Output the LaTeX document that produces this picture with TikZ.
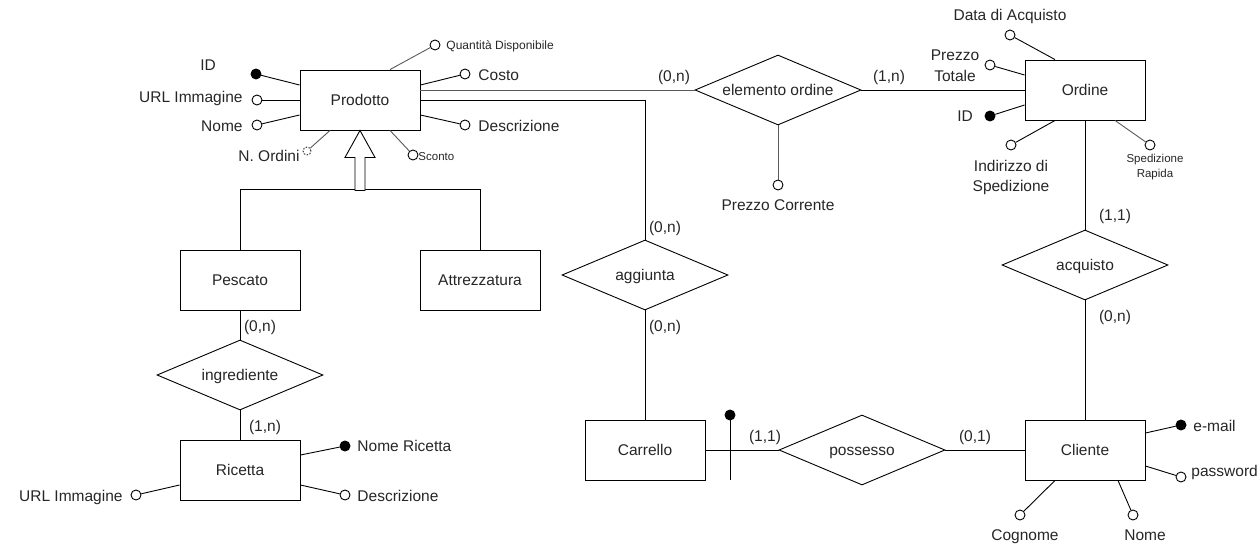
\documentclass[tikz,border=0pt]{standalone}
\usepackage{fontspec}
\setmainfont{Liberation Sans}
\usetikzlibrary{shapes.geometric}
\newcommand\fmain{\fontsize{15.5}{20}\selectfont}
\newcommand\fsq{\fontsize{12}{14}\selectfont}
\newcommand\fsml{\fontsize{11.5}{15}\selectfont}
\begin{document}
\begin{tikzpicture}[x=1pt,y=-1pt,line width=0.9pt,
  every node/.style={inner sep=0pt, text=black!85},
  lab/.style={font=\fmain, text height=10.5pt, text depth=0pt},
  mlab/.style={font=\fmain, align=center},
  ent/.style={draw, fill=white, minimum width=120pt, minimum height=60pt, font=\fmain, text height=10.5pt, text depth=0pt},
  rel/.style={draw, diamond, aspect=2.37, fill=white, minimum width=166pt, minimum height=70pt, font=\fmain, text height=10.5pt, text depth=0pt},
  att/.style={draw, circle, fill=white, minimum size=10pt},
  katt/.style={att, fill=black},
  soft/.style={draw=black!65}]
\useasboundingbox (0,0) rectangle (1260,552);

% entities and relationships
\node[ent] (prod) at (360,100) {Prodotto};
\node[ent] (pesc) at (240,280) {Pescato};
\node[ent] (attr) at (480,280) {Attrezzatura};
\node[rel] (ingr) at (240,375) {ingrediente};
\node[ent] (ric) at (240,470) {Ricetta};
\node[rel] (elem) at (778,90) {elemento ordine};
\node[ent] (ord) at (1085,90) {Ordine};
\node[rel] (acq) at (1085,265) {acquisto};
\node[ent] (cli) at (1085,450) {Cliente};
\node[rel] (poss) at (862,450) {possesso};
\node[ent] (carr) at (645,450) {Carrello};
\node[rel] (agg) at (645,275) {aggiunta};

% connectors
\draw[soft] (elem.west -| prod.east) -- (elem.west);
\draw (elem.east) -- (ord.west);
\draw (prod.east) -- (agg.north |- prod.east) -- (agg.north);
\draw (agg.south) -- (carr.north);
\draw (ord.south) -- (acq.north);
\draw (acq.south) -- (cli.north);
\draw (carr.east) -- (poss.west);
\draw (poss.east) -- (cli.west);
\draw (pesc.south) -- (ingr.north);
\draw (ingr.south) -- (ric.north);

% generalization
\draw (pesc.north) -- ++(0,-60) -| (attr.north);
\draw[fill=white] (prod.south) -- ++(15,27) -- ++(-10,0) -- ++(0,33) -- ++(-10,0) -- ++(0,-33) -- ++(-10,0) -- cycle;

% cardinalities
\node[lab] at (674,76) {(0,n)};
\node[lab] at (889,76) {(1,n)};
\node[lab] at (665,227) {(0,n)};
\node[lab] at (665,326) {(0,n)};
\node[lab] at (1115,215) {(1,1)};
\node[lab] at (1115,316) {(0,n)};
\node[lab] at (765,436) {(1,1)};
\node[lab] at (975,436) {(0,1)};
\node[lab] at (260,326) {(0,n)};
\node[lab] at (265,426) {(1,n)};

% Prodotto attributes
\node[att] (pq) at (435,45) {};
\node[font=\fsq, anchor=west, text height=8.5pt, text depth=0pt] at (446,45) {Quantità Disponibile};
\draw[soft] ([xshift=30pt]prod.north) -- (pq);
\node[att] (pco) at (465,74) {};
\node[lab, anchor=west] at (478,75) {Costo};
\draw ([yshift=15pt]prod.east) -- (pco);
\node[att] (pde) at (465,125) {};
\node[lab, anchor=west] at (478,126) {Descrizione};
\draw ([yshift=-15pt]prod.east) -- (pde);
\node[katt] (pid) at (256,74) {};
\node[lab] at (208,65) {ID};
\draw ([yshift=15pt]prod.west) -- (pid);
\node[att] (purl) at (257,100) {};
\node[lab, anchor=east] at (243,97) {URL Immagine};
\draw (prod.west) -- (purl);
\node[att] (pno) at (257,125) {};
\node[lab, anchor=east] at (243,126) {Nome};
\draw ([yshift=-15pt]prod.west) -- (pno);
\node[draw, circle, dashed, dash pattern=on 1.5pt off 1.5pt, line width=0.8pt, minimum size=8pt] (pnord) at (307,151) {};
\node[lab, anchor=east] at (300,156) {N. Ordini};
\draw[soft] ([xshift=-30pt]prod.south) -- (pnord);
\node[att] (psc) at (413,155) {};
\node[font=\fsml, anchor=west, text height=8.2pt, text depth=0pt] at (418,156) {Sconto};
\draw[soft] ([xshift=30pt]prod.south) -- (psc);

% elemento ordine attribute
\node[att] (epc) at (778,185) {};
\node[lab] at (778,205) {Prezzo Corrente};
\draw[soft] (elem.south) -- (epc);

% Ordine attributes
\node[att] (oda) at (1010,35) {};
\node[lab] at (1010,15) {Data di Acquisto};
\draw ([xshift=-30pt]ord.north) -- (oda);
\node[att] (opt) at (990,65) {};
\node[mlab, anchor=north, font=\fontsize{15.5}{21}\selectfont] at (955,49.5) {Prezzo\\Totale};
\draw ([yshift=15pt]ord.west) -- (opt);
\node[katt] (oid) at (990,116) {};
\node[lab] at (965,116) {ID};
\draw ([yshift=-15pt]ord.west) -- (oid);
\node[att] (oin) at (1011,145) {};
\node[mlab, anchor=north] at (1011,159.5) {Indirizzo di\\Spedizione};
\draw ([xshift=-30pt]ord.south) -- (oin);
\node[att] (osr) at (1150,145) {};
\node[mlab, anchor=north, font=\fsml] at (1155,153.5) {Spedizione\\Rapida};
\draw[soft] ([xshift=30pt]ord.south) -- (osr);

% Carrello identifier
\node[katt] (cid) at (730,415) {};
\coordinate (cidb) at (730,480);
\draw (cid) -- (cidb);

% Cliente attributes
\node[katt] (cem) at (1181,425) {};
\node[lab, anchor=west] at (1193,426) {e-mail};
\draw ([yshift=17pt]cli.east) -- (cem);
\node[att] (cpw) at (1181,477) {};
\node[lab, anchor=west] at (1191,471) {password};
\draw ([yshift=-16pt]cli.east) -- (cpw);
\node[att] (ccg) at (1020,515) {};
\node[lab] at (1025,535) {Cognome};
\draw ([xshift=-30pt]cli.south) -- (ccg);
\node[att] (cno) at (1133,515) {};
\node[lab] at (1145,535) {Nome};
\draw ([xshift=33pt]cli.south) -- (cno);

% Ricetta attributes
\node[katt] (rnr) at (345,446) {};
\node[lab, anchor=west] at (357,446) {Nome Ricetta};
\draw ([yshift=15pt]ric.east) -- (rnr);
\node[att] (rde) at (345,495) {};
\node[lab, anchor=west] at (357,496) {Descrizione};
\draw ([yshift=-15pt]ric.east) -- (rde);
\node[att] (rurl) at (136,495) {};
\node[lab, anchor=east] at (123,496) {URL Immagine};
\draw ([yshift=-15pt]ric.west) -- (rurl);
\end{tikzpicture}
\end{document}
